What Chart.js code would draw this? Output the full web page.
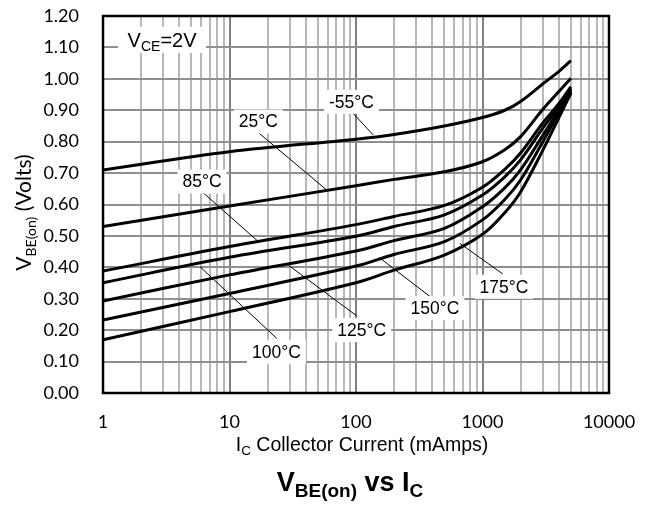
<!DOCTYPE html>
<html>
<head>
<meta charset="utf-8">
<script src="https://cdn.jsdelivr.net/npm/chart.js@4/dist/chart.umd.min.js"></script>
<style>
  html, body { margin: 0; padding: 0; background: #fff; }
  #wrap { width: 654px; height: 510px; }
</style>
</head>
<body>
<div id="wrap"><canvas id="c" width="654" height="510"></canvas></div>
<script>
// ---- data ----
const currents = [1, 10, 100, 200, 500, 1000, 1500, 2000, 3000, 4000, 5000];
const vbeM55  = [0.710, 0.768, 0.808, 0.823, 0.850, 0.877, 0.900, 0.928, 0.984, 1.023, 1.058];
const vbe25   = [0.530, 0.595, 0.660, 0.680, 0.704, 0.736, 0.774, 0.816, 0.903, 0.959, 1.002];
const vbe85   = [0.388, 0.466, 0.536, 0.562, 0.597, 0.655, 0.712, 0.764, 0.860, 0.920, 0.975];
const vbe100  = [0.351, 0.432, 0.499, 0.530, 0.567, 0.630, 0.688, 0.742, 0.843, 0.910, 0.970];
const vbe125  = [0.293, 0.376, 0.452, 0.485, 0.524, 0.593, 0.653, 0.710, 0.820, 0.900, 0.965];
const vbe150  = [0.232, 0.317, 0.404, 0.441, 0.482, 0.551, 0.616, 0.678, 0.800, 0.890, 0.960];
const vbe175  = [0.169, 0.259, 0.351, 0.391, 0.439, 0.505, 0.574, 0.640, 0.773, 0.875, 0.955];
const seriesNames = ['-55°C', '25°C', '85°C', '100°C', '125°C', '150°C', '175°C'];
const xTickValues = [1, 10, 100, 1000, 10000];
const yTickLabels = ['0.00','0.10','0.20','0.30','0.40','0.50','0.60','0.70','0.80','0.90','1.00','1.10','1.20'];

// callout labels: [text, labelX, labelY, pointerFromX, pointerFromY, pointerToX, pointerToY] (data coords)
const callouts = [
  ['-55°C', 92,  0.927, 92.5, 0.895, 137, 0.821],
  ['25°C',  16.9, 0.864, 16.9, 0.829, 58.7, 0.646],
  ['85°C',  6.06, 0.673, 6.05, 0.641, 16.9, 0.482],
  ['100°C', 23.5, 0.131, 23.6, 0.174, 5.85, 0.402],
  ['125°C', 111, 0.200, 101, 0.246, 29.2, 0.407],
  ['150°C', 421, 0.270, 385, 0.307, 155, 0.429],
  ['175°C', 1479, 0.338, 1445, 0.379, 664, 0.476]
];
const vceNote = { x: 2.93, y: 1.124 };

const allSeries = [vbeM55, vbe25, vbe85, vbe100, vbe125, vbe150, vbe175];

function richText(ctx, parts, x, y, align) {
  let total = 0;
  parts.forEach(p => { ctx.font = p[1]; total += ctx.measureText(p[0]).width; });
  let cx = align === 'center' ? x - total / 2 : x;
  ctx.textAlign = 'left';
  ctx.textBaseline = 'alphabetic';
  parts.forEach(p => {
    ctx.font = p[1];
    ctx.fillText(p[0], cx, y + (p[2] || 0));
    cx += ctx.measureText(p[0]).width;
  });
  return total;
}

const decor = {
  id: 'decor',
  beforeDatasetsDraw(chart) {
    const { ctx, scales } = chart;
    ctx.save();
    ctx.strokeStyle = '#000';
    ctx.lineWidth = 1;
    callouts.forEach(c => {
      ctx.beginPath();
      ctx.moveTo(scales.x.getPixelForValue(c[3]), scales.y.getPixelForValue(c[4]));
      ctx.lineTo(scales.x.getPixelForValue(c[5]), scales.y.getPixelForValue(c[6]));
      ctx.stroke();
    });
    ctx.restore();
  },
  afterDatasetsDraw(chart) {
    const { ctx, chartArea: a, scales } = chart;
    ctx.save();
    const lf = '17.5px "Liberation Sans", Arial, sans-serif';
    callouts.forEach(c => {
      const px = scales.x.getPixelForValue(c[1]);
      const py = scales.y.getPixelForValue(c[2]);
      ctx.font = lf;
      const w = ctx.measureText(c[0]).width;
      ctx.fillStyle = '#fff';
      ctx.fillRect(px - w / 2 - 5, py - 12, w + 10, 24);
      ctx.fillStyle = '#000';
      ctx.textAlign = 'center';
      ctx.textBaseline = 'middle';
      ctx.fillText(c[0], px, py + 1);
    });
    const vx = scales.x.getPixelForValue(vceNote.x);
    const vy = scales.y.getPixelForValue(vceNote.y);
    ctx.fillStyle = '#fff';
    ctx.fillRect(vx - 44, vy - 13, 88, 26);
    ctx.fillStyle = '#000';
    richText(ctx, [
      ['V', '20px "Liberation Sans", Arial, sans-serif', 0],
      ['CE', '14px "Liberation Sans", Arial, sans-serif', 4],
      ['=2V', '20px "Liberation Sans", Arial, sans-serif', 0]
    ], vx, vy + 7, 'center');
    ctx.strokeStyle = '#000';
    ctx.lineWidth = 2.5;
    ctx.strokeRect(a.left, a.top, a.right - a.left, a.bottom - a.top);

    ctx.fillStyle = '#000';
    richText(ctx, [
      ['I', '19.5px "Liberation Sans", Arial, sans-serif', 0],
      ['C', '13.5px "Liberation Sans", Arial, sans-serif', 4],
      [' Collector Current (mAmps)', '19.5px "Liberation Sans", Arial, sans-serif', 0]
    ], 362, 451, 'center');
    richText(ctx, [
      ['V', 'bold 27px "Liberation Sans", Arial, sans-serif', 0],
      ['BE(on)', 'bold 19px "Liberation Sans", Arial, sans-serif', 6],
      [' vs I', 'bold 27px "Liberation Sans", Arial, sans-serif', 0],
      ['C', 'bold 19px "Liberation Sans", Arial, sans-serif', 6]
    ], 350, 491, 'center');
    ctx.save();
    ctx.translate(31, (a.top + a.bottom) / 2 + 8);
    ctx.rotate(-Math.PI / 2);
    richText(ctx, [
      ['V', '21px Lato, sans-serif', 0],
      ['BE(on)', '14px Lato, sans-serif', 5],
      [' (Volts)', '21px Lato, sans-serif', 0]
    ], 0, 0, 'center');
    ctx.restore();
    ctx.restore();
  }
};

new Chart(document.getElementById('c'), {
  type: 'line',
  data: {
    datasets: allSeries.map((s, i) => ({
      label: seriesNames[i],
      data: currents.map((x, j) => ({ x: x, y: s[j] })),
      borderColor: '#000',
      borderWidth: 3,
      pointRadius: 0,
      fill: false,
      tension: 0.35
    }))
  },
  options: {
    responsive: false,
    animation: false,
    events: [],
    layout: { padding: { left: 0, right: 45, top: 16, bottom: 0 } },
    plugins: { legend: { display: false }, tooltip: { enabled: false }, title: { display: false } },
    scales: {
      x: {
        type: 'logarithmic',
        min: 1, max: 10000,
        afterBuildTicks(scale) {
          const t = [];
          for (let d = 1; d < 10000; d *= 10) for (let k = 1; k < 10; k++) t.push({ value: k * d });
          t.push({ value: 10000 });
          scale.ticks = t;
        },
        afterFit(scale) { scale.height = 117; scale.paddingLeft = 0; scale.paddingRight = 0; },
        grid: {
          drawTicks: false,
          color: ctx => xTickValues.includes(ctx.tick && ctx.tick.value) ? '#7f7f7f' : '#b8b8b8',
          lineWidth: 2
        },
        border: { display: false },
        ticks: {
          autoSkip: false,
          maxRotation: 0,
          padding: 18,
          color: '#000',
          font: { family: 'Lato', size: 18 },
          callback: (v) => xTickValues.includes(v) ? String(v) : ''
        }
      },
      y: {
        min: 0, max: 1.2,
        afterBuildTicks(scale) {
          scale.ticks = yTickLabels.map(l => ({ value: parseFloat(l) }));
        },
        afterFit(scale) { scale.width = 103; scale.paddingTop = 0; scale.paddingBottom = 0; },
        grid: { drawTicks: false, color: '#8f8f8f', lineWidth: 2 },
        border: { display: false },
        ticks: {
          padding: 24,
          color: '#000',
          font: { family: 'Lato', size: 18 },
          callback: (v) => yTickLabels[Math.round(v * 10)]
        }
      }
    }
  },
  plugins: [decor]
});
</script>
</body>
</html>
